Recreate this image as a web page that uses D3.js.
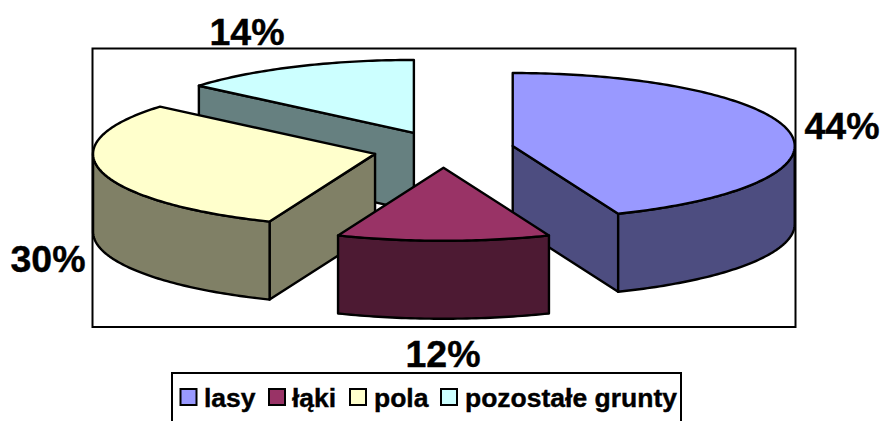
<!DOCTYPE html>
<html><head><meta charset="utf-8">
<script src="https://cdnjs.cloudflare.com/ajax/libs/d3/7.9.0/d3.min.js"></script>
<style>html,body{margin:0;padding:0;background:#fff;overflow:hidden}svg{display:block}text{font-family:"Liberation Sans",Arial,sans-serif;font-weight:bold;fill:#000;stroke:#000;stroke-width:.4px}</style>
</head><body><svg id="c" width="882" height="421"></svg>
<script>
const categories = ["lasy","łąki","pola","pozostałe grunty"];
const values = [43.9,12.2,30.1,13.8];
const labels = ["44%","12%","30%","14%"];
const topColors = ["#9999FF","#993366","#FFFFCC","#CCFFFF"];
const sideColors = ["#4D4D80","#4D1A33","#808066","#668080"];
const drawOrder = [3,0,2,1];

const W=882,H=421, cx0=443.5, cy0=149.5, rx=282, ry=73, depth=78, explode=0.25;
const svg=d3.select("#c");
svg.append("rect").attr("width",W).attr("height",H).attr("fill","#fff");
svg.append("rect").attr("x",92.5).attr("y",48.5).attr("width",703).attr("height",278.5)
  .attr("fill","#fff").attr("stroke","#000").attr("stroke-width",2);

const arcs=d3.pie().sort(null).value(d=>d)(values);
const line=d3.line();
const TAU=2*Math.PI;
const geo=arcs.map(a=>{
  const mid=(a.startAngle+a.endAngle)/2;
  const cx=cx0+explode*rx*Math.sin(mid), cy=cy0-explode*ry*Math.cos(mid);
  const pt=(t,dz=0)=>[cx+rx*Math.sin(t), cy-ry*Math.cos(t)+dz];
  const sweep=(a0,a1,dz)=>{const n=Math.max(2,Math.ceil((a1-a0)*60));return d3.range(n+1).map(i=>pt(a0+(a1-a0)*i/n,dz));};
  return {a,cx,cy,pt,sweep};
});
const stroke=s=>s.attr("stroke","#000").attr("stroke-width",2.4).attr("stroke-linejoin","round");

drawOrder.forEach(i=>{
  const g=geo[i], s0=g.a.startAngle, s1=g.a.endAngle, c=[g.cx,g.cy];
  const side=sideColors[i];
  const radial=t=>{
    const p=g.pt(t);
    stroke(svg.append("path").attr("fill",side)
      .attr("d",line([c,p,[p[0],p[1]+depth],[c[0],c[1]+depth]])+"Z"));
  };
  if(Math.cos(s1)<0 && Math.sin(s1)>0) radial(s1);
  if(Math.sin(s0)<0 && s0<TAU) radial(s0);
  const a0=Math.max(s0,Math.PI/2), a1=Math.min(s1,3*Math.PI/2);
  if(a1>a0){
    stroke(svg.append("path").attr("fill",side)
      .attr("d",line(g.sweep(a0,a1,0).concat(g.sweep(a0,a1,depth).reverse()))+"Z"));
  }
  stroke(svg.append("path").attr("fill",topColors[i])
    .attr("d",line([c].concat(g.sweep(s0,s1,0)))+"Z"));
});

const labelPos=[[842,139],[443,367],[48,272],[247,45]];
labels.forEach((t,i)=>svg.append("text").attr("x",labelPos[i][0]).attr("y",labelPos[i][1])
  .attr("text-anchor","middle").attr("font-size",37.5).text(t));

svg.append("rect").attr("x",172).attr("y",373).attr("width",509).attr("height",60)
  .attr("fill","#fff").attr("stroke","#000").attr("stroke-width",2);
const swatchX=[180.5,269,350,441], textX=[204,292,374,465];
categories.forEach((t,i)=>{
  svg.append("rect").attr("x",swatchX[i]).attr("y",389).attr("width",16).attr("height",16)
    .attr("fill",topColors[i]).attr("stroke","#000").attr("stroke-width",2);
  svg.append("text").attr("x",textX[i]).attr("y",406.5).attr("font-size",26.5).text(t);
});
</script></body></html>
